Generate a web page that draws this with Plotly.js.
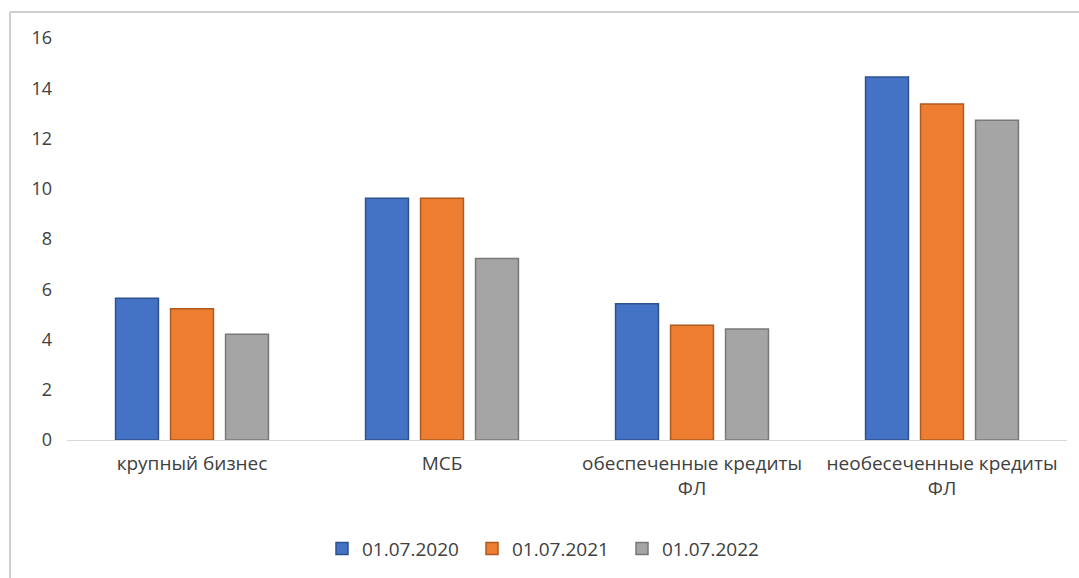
<!DOCTYPE html>
<html>
<head>
<meta charset="utf-8">
<script src="https://cdn.plot.ly/plotly-3.0.1.min.js"></script>
<style>
html,body{margin:0;padding:0;background:#fff;}
#chart{width:1079px;height:578px;}
</style>
</head>
<body>
<div id="chart"></div>
<script>
const categories = ["крупный бизнес", "МСБ", "обеспеченные кредиты<br>ФЛ", "необесеченные кредиты<br>ФЛ"];
const seriesNames = ["01.07.2020", "01.07.2021", "01.07.2022"];
const v2020 = [5.64, 9.62, 5.42, 14.45];
const v2021 = [5.22, 9.62, 4.57, 13.37];
const v2022 = [4.21, 7.22, 4.42, 12.73];
const yTicks = [0, 2, 4, 6, 8, 10, 12, 14, 16];

const fills = ["#4472C4", "#ED7D31", "#A5A5A5"];
const lines = ["#2F528F", "#AE5A21", "#787878"];
const values = [v2020, v2021, v2022];

const traces = values.map((vals, i) => ({
  type: "bar",
  name: seriesNames[i],
  x: categories,
  y: vals,
  marker: {color: fills[i], line: {color: lines[i], width: 1.5}},
  hoverinfo: "x+y+name"
}));

const fam = "Open Sans, Noto Sans, sans-serif";
const font = {family: fam, size: 18, color: "#404040"};

const layout = {
  width: 1079,
  height: 578,
  margin: {l: 67, r: 12, t: 38, b: 137},
  paper_bgcolor: "#fff",
  plot_bgcolor: "#fff",
  font: font,
  barmode: "group",
  bargap: 0.34,
  bargroupgap: 0.22,
  showlegend: true,
  legend: {
    orientation: "h",
    x: 0.48, xanchor: "center",
    y: -0.22, yanchor: "top",
    font: {family: fam, size: 19, color: "#404040"},
    entrywidth: 105,
    entrywidthmode: "pixels",
    traceorder: "normal"
  },
  xaxis: {
    showgrid: false,
    showline: true,
    linecolor: "#d9d9d9",
    linewidth: 1,
    ticks: "",
    ticklabelstandoff: 6,
    tickfont: {family: fam, size: 19, color: "#404040"},
    zeroline: false
  },
  yaxis: {
    range: [0, 16],
    tickvals: yTicks,
    ticktext: yTicks.map(String),
    showgrid: false,
    zeroline: false,
    showline: false,
    ticks: "",
    ticklabelstandoff: 14,
    tickfont: font
  },
  shapes: [
    {type: "line", xref: "paper", yref: "paper", x0: -0.057, x1: 1.02, y0: 1.0645, y1: 1.0645, line: {color: "#cfcfcf", width: 2}},
    {type: "line", xref: "paper", yref: "paper", x0: -0.057, x1: -0.057, y0: 1.0645, y1: -0.35, line: {color: "#cfcfcf", width: 2}}
  ]
};

Plotly.newPlot("chart", traces, layout, {displayModeBar: false, staticPlot: true});
</script>
</body>
</html>
